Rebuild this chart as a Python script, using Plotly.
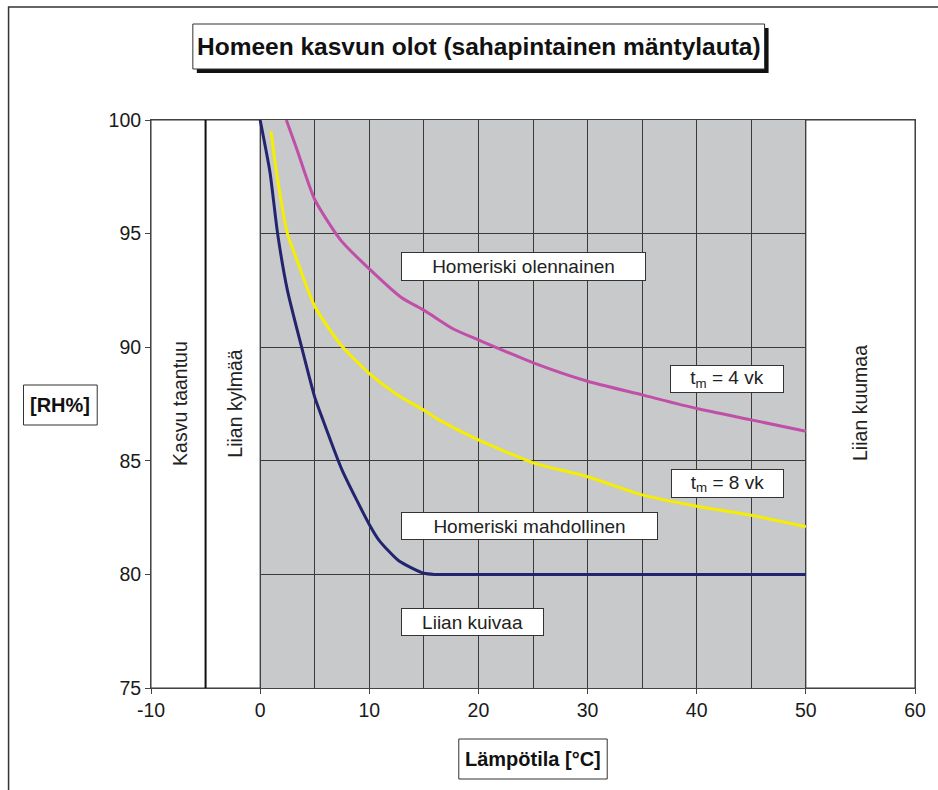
import plotly.graph_objects as go

# ---- data ----
x_4vk = [2.4, 3.3, 5.0, 7.4, 10.1, 12.9, 15.1, 17.7, 20.1, 25.1, 30.0, 35.0, 40.0, 45.0, 50.0]
rh_4vk = [100.0, 98.8, 96.5, 94.7, 93.4, 92.2, 91.6, 90.8, 90.3, 89.3, 88.5, 87.9, 87.3, 86.8, 86.3]

x_8vk = [1.0, 1.5, 2.5, 3.4, 5.0, 7.4, 10.1, 12.6, 15.1, 16.4, 20.1, 25.1, 30.0, 35.0, 40.0, 45.0, 50.0]
rh_8vk = [99.5, 97.7, 95.0, 93.8, 91.8, 90.1, 88.8, 87.9, 87.2, 86.8, 85.9, 84.9, 84.3, 83.5, 83.0, 82.6, 82.1]

x_min = [0.0, 0.9, 1.6, 2.5, 3.8, 5.0, 5.6, 7.5, 10.0, 10.9, 12.7, 15.0, 16.0, 20.0, 30.0, 40.0, 50.0]
rh_min = [100.0, 97.7, 95.0, 92.5, 90.0, 87.8, 87.0, 84.6, 82.2, 81.5, 80.6, 80.05, 80.0, 80.0, 80.0, 80.0, 80.0]

x_ticks = [-10, 0, 10, 20, 30, 40, 50, 60]
y_ticks = [75, 80, 85, 90, 95, 100]

title_text = "Homeen kasvun olot (sahapintainen mäntylauta)"
y_title = "[RH%]"
x_title = "Lämpötila [°C]"

FONT = "Arial, 'Liberation Sans', sans-serif"
GRAY = "#C8C9CB"
GRID = "#3A3A3A"

# plot area in pixels (938x790 window)
L, R, T, B = 151, 20, 120, 102
W = 938 - L - R
H = 790 - T - B


def px(p):
    return (p - L) / W


def py(p):
    return (790 - B - p) / H


fig = go.Figure()

fig.add_trace(go.Scatter(x=x_min, y=rh_min, mode="lines",
                         line=dict(color="#23246E", width=3, shape="spline", smoothing=0.6),
                         showlegend=False, hoverinfo="skip"))
fig.add_trace(go.Scatter(x=x_8vk, y=rh_8vk, mode="lines",
                         line=dict(color="#F5EE00", width=3, shape="spline", smoothing=0.6),
                         showlegend=False, hoverinfo="skip"))
fig.add_trace(go.Scatter(x=x_4vk, y=rh_4vk, mode="lines",
                         line=dict(color="#C04FA8", width=3, shape="spline", smoothing=0.6),
                         showlegend=False, hoverinfo="skip"))

shapes = []
# gray mould zone
shapes.append(dict(type="rect", xref="x", yref="y", x0=0, x1=50, y0=75, y1=100,
                   fillcolor=GRAY, line=dict(width=0), layer="below"))
# white zones
for a, b in [(-10, -5), (-5, 0), (50, 60)]:
    shapes.append(dict(type="rect", xref="x", yref="y", x0=a, x1=b, y0=75, y1=100,
                       fillcolor="white", line=dict(color="#333333", width=1), layer="between"))
shapes.append(dict(type="line", xref="x", yref="y", x0=-5, x1=-5, y0=75, y1=100,
                   line=dict(color="#111111", width=2), layer="above"))
# outer frame
shapes.append(dict(type="rect", xref="paper", yref="paper", x0=px(8), x1=px(960),
                   y0=py(820), y1=py(7), line=dict(color="#333333", width=1.5),
                   fillcolor="rgba(0,0,0,0)", layer="above"))
# title box with shadow
shapes.append(dict(type="rect", xref="paper", yref="paper", x0=px(197), x1=px(771),
                   y0=py(73), y1=py(28), fillcolor="#111111", line=dict(width=0), layer="above"))
shapes.append(dict(type="rect", xref="paper", yref="paper", x0=px(193), x1=px(767),
                   y0=py(69), y1=py(24), fillcolor="white", line=dict(color="#333333", width=1),
                   layer="above"))
# y title box
shapes.append(dict(type="rect", xref="paper", yref="paper", x0=px(23), x1=px(97),
                   y0=py(425), y1=py(385), fillcolor="white", line=dict(color="#333333", width=1),
                   layer="above"))
# x title box
shapes.append(dict(type="rect", xref="paper", yref="paper", x0=px(460), x1=px(609),
                   y0=py(779), y1=py(739), fillcolor="white", line=dict(color="#333333", width=1),
                   layer="above"))

annotations = []
annotations.append(dict(xref="paper", yref="paper", x=px(480), y=py(46), text=title_text,
                        showarrow=False, font=dict(family=FONT, size=24.5, color="#111111", weight="bold"),
                        xanchor="center", yanchor="middle"))
annotations.append(dict(xref="paper", yref="paper", x=px(60), y=py(405), text=y_title,
                        showarrow=False, font=dict(family=FONT, size=20, color="#111111", weight="bold"),
                        xanchor="center", yanchor="middle"))
annotations.append(dict(xref="paper", yref="paper", x=px(534.5), y=py(759), text=x_title,
                        showarrow=False, font=dict(family=FONT, size=20, color="#111111", weight="bold"),
                        xanchor="center", yanchor="middle"))

# rotated zone labels
for xx, txt in [(-7.36, "Kasvu taantuu"), (-2.34, "Liian kylmää"), (54.95, "Liian kuumaa")]:
    annotations.append(dict(xref="x", yref="y", x=xx, y=87.54, text=txt, textangle=-90,
                            showarrow=False, font=dict(family=FONT, size=19.5, color="#222222"),
                            xanchor="center", yanchor="middle"))

# boxed labels inside the plot
for xx, yy, w, h, txt in [
    (24.13, 93.54, 245, 29, "Homeriski olennainen"),
    (42.8, 88.58, 114, 28, "t<sub>m</sub> = 4 vk"),
    (42.8, 84.0, 113, 29, "t<sub>m</sub> = 8 vk"),
    (24.68, 82.15, 257, 28, "Homeriski mahdollinen"),
    (19.48, 77.9, 143, 28, "Liian kuivaa"),
]:
    annotations.append(dict(xref="x", yref="y", x=xx, y=yy, text=txt, showarrow=False,
                            font=dict(family=FONT, size=19, color="#222222"),
                            bgcolor="white", bordercolor="#333333", borderwidth=1, borderpad=0,
                            width=w - 2, height=h - 2, xanchor="center", yanchor="middle",
                            align="center", valign="middle"))

fig.update_layout(
    width=938, height=790,
    margin=dict(l=L, r=R, t=T, b=B, pad=0),
    paper_bgcolor="white", plot_bgcolor="white",
    shapes=shapes, annotations=annotations,
    showlegend=False,
    font=dict(family=FONT, size=19, color="#222222"),
)
fig.update_xaxes(range=[-10, 60], tickvals=x_ticks, ticktext=[str(v) for v in x_ticks],
                 showgrid=True, gridcolor=GRID, gridwidth=1,
                 minor=dict(dtick=5, tick0=0, showgrid=True, gridcolor=GRID, gridwidth=1, ticks=""),
                 zeroline=False, showline=True, linecolor="#444444", linewidth=1, mirror=True,
                 ticks="outside", ticklen=5, tickcolor="#444444",
                 tickfont=dict(family=FONT, size=19.5, color="#1a1a1a"))
fig.update_yaxes(range=[75, 100], tickvals=y_ticks, ticktext=[str(v) for v in y_ticks],
                 showgrid=True, gridcolor=GRID, gridwidth=1,
                 zeroline=False, showline=True, linecolor="#444444", linewidth=1, mirror=True,
                 ticks="outside", ticklen=5, tickcolor="#444444",
                 tickfont=dict(family=FONT, size=19.5, color="#1a1a1a"))

fig.write_html("out.html")
